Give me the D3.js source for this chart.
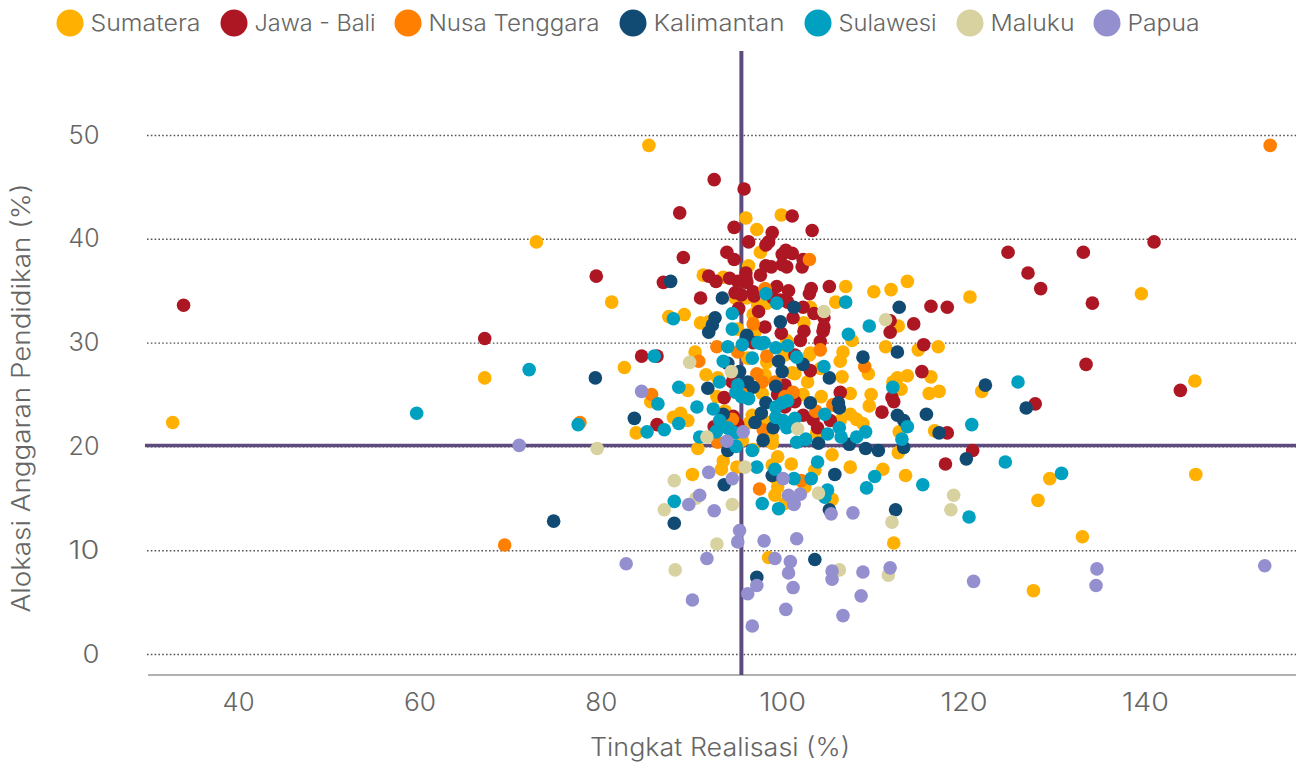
<!DOCTYPE html>
<html><head><meta charset="utf-8">
<script src="https://d3js.org/d3.v7.min.js"></script>
<style>
html,body{margin:0;padding:0;background:#fff}
svg{display:block}
text{font-family:"Inter","Noto Sans",sans-serif;font-weight:300;fill:#666}
.grid line{stroke:#555;stroke-width:1.4;stroke-dasharray:1.6 2.2}
.grid path,.ya path{display:none}
</style></head><body><svg id="c" width="1296" height="762"></svg>
<script>
const seriesNames=["Sumatera","Jawa - Bali","Nusa Tenggara","Kalimantan","Sulawesi","Maluku","Papua"];
const seriesColors=["#FFB000","#AD1724","#FF7F00","#114B73","#00A0C0","#D8D1A0","#9490CF"];
const xTicks=[40,60,80,100,120,140];
const yTicks=[0,10,20,30,40,50];
const refX=95.5, refY=20.08;

const sumatera=[[85.3,49],[72.9,39.7],[81.2,33.9],[32.8,22.3],[67.2,26.6],[82.6,27.6],[139.6,34.7],[145.5,26.3],[145.6,17.3],[128.2,14.8],[129.5,16.9],[133.1,11.3],[127.7,6.1],[120.7,34.4],[122,25.3],
[113.8,35.9],[112,35.1],[110.1,34.9],[112.8,31.6],[111.4,29.6],[115,29.3],[117.2,29.6],[109.5,27],[113.8,26.8],[116.4,26.7],[112.7,26.6],[112.2,26.2],[113.1,25.5],[116.2,25.1],[117.3,25.3],[109.8,25],[107.5,25.1],[109.6,23.9],[107.5,23.1],[108.2,22.6],[108.9,22.2],[116.8,21.5],[112.9,21.4],[112.8,19.4],[111.1,17.8],[107.5,18],[113.6,17.2],[112.3,10.7],[107.7,30.2],[107,35.4],
[96,42],[99.9,42.3],[97.2,40.9],[97.6,38.7],[96.3,37.4],[91.3,36.5],[93.5,36.3],[105.9,33.9],[87.5,32.5],[89.2,32.7],[91,31.9],[91.9,32],[94.8,34.3],[96.1,34.3],[98.3,33.8],[97.3,33.6],[103.1,33.4],[96.8,32.7],[102.4,31.9],[95.1,31.3],[97,31],[100.5,30.2],[90.4,29.1],[106.7,29.1],[103.1,29],
[106.4,28.2],[103,28.8],[98.3,28.1],[100.3,28.8],[91.6,26.9],[92.9,26.6],[101.4,27],[101.1,27.1],[98.1,26.9],[102.8,26.2],[106.6,26.7],[104.2,27.5],[89.6,25.4],[104.3,24.8],[102.3,25],[97.8,25.1],[92.8,24.8],[85.5,24.3],[93.7,23.4],[88,22.8],[88.8,23.2],[89.6,22.5],[106.4,22.5],[105.6,24],[96.4,22.3],[98.1,22.4],[98.9,20.3],[90.7,19.8],[95.6,20.6],[96.8,19.7],[105.5,19.2],[99.5,19],[101,18.3],[93.5,18.6],[93.3,17.8],[95,18],[98.9,18.2],[103.6,17.7],[90.1,17.3],[99.2,17],[99.5,16.1],[99.2,15.3],[100.3,14.5],[102.5,16.1],[105.5,14.9],[103.8,21.3],[93.4,22.3],[98.9,20.9],[98.5,9.3],[83.9,21.3],[96.7,23],[96.2,28.5],[98.7,20.6]];

const jawaBali=[[34,33.6],[67.2,30.4],[79.5,36.4],[84.5,28.7],[86.2,28.7],[86.2,22.1],[124.9,38.7],[127.1,36.7],[128.5,35.2],[133.2,38.7],[141,39.7],[134.2,33.8],[133.5,27.9],[143.9,25.4],[127.9,24.1],[121,19.6],
[92.5,45.7],[95.8,44.8],[88.7,42.5],[101.1,42.2],[94.7,41.1],[103.3,40.8],[98.9,40.6],[96.3,39.7],[98.5,39.7],[98.2,39.4],[93.9,38.7],[89.1,38.2],[100.4,38.9],[101.1,38.6],[100,38.5],[94.7,38],[102.3,38],[102.2,37.3],[98.2,37.4],[98.8,37.3],[100,37.5],[100.5,37.3],[86.9,35.8],[91.9,36.4],[92.7,35.9],[94.2,36.2],[96,36.7],[96,36.2],[95.1,35.9],[96.1,35.8],[97.6,36.5],[91,34.3],[94.8,34.8],[95.5,34.6],[96.8,34.9],[96.9,34.5],[99.4,35.4],[100.7,35],[105.2,35.4],[103.2,35.2],[103,34.7],[99,34.3],[99.8,34.1],[100.6,33.9],[95.2,33.3],[97.4,33],[102.3,33.4],[103.5,32.8],[101.2,32.4],[104.6,32.4],[98.1,31.5],[104.6,31.5],[104.5,31.1],[102.4,31.1],[99.9,30.9],[102,30.2],[104.2,30.1],[111.9,32.1],[111.9,31],[114.5,31.8],[116.4,33.5],[118.2,33.4],[115.6,29.8],[96.8,30],
[101.4,28.8],[103.1,27.3],[115.4,27.2],[94.5,26.2],[100.3,25.9],[100,25.4],[99.5,25],[106.4,25.2],[93.6,24.7],[112.1,24.7],[112.3,24.3],[111,23.3],[101.4,24.3],[100.3,23.8],[102.3,23],[103.4,22.6],[105.3,22.5],[103.9,21.8],[94.6,22.9],[92.5,21.9],[95.1,22.1],[118.2,21.3],[118,18.3]];

const nusaTenggara=[[153.8,49],[69.4,10.5],[77.7,22.3],[85.6,25],[103,38],[96.8,31.8],[92.8,29.6],[98.1,35.2],[104.2,29.3],[95.1,29.1],[98.3,28.7],[90.8,28.2],[109.1,27.7],[97.2,27],[97.8,26.2],[99.2,26.2],[101.2,25.2],[96.1,25.2],[105.6,24],[103.7,23.4],[94.5,22.6],[97.9,21.6],[92.9,20.4],[97.5,15.9],[102.1,16.7],[100.3,24.8]];

const kalimantan=[[74.8,12.8],[79.4,26.6],[83.7,22.7],[87.7,35.9],[126.9,23.7],[122.4,25.9],[120.3,18.8],[112.5,13.9],[88.1,12.6],[103.6,9.1],[97.2,7.4],[105.2,13.9],
[93.4,34.3],[92.6,32.4],[92.3,31.7],[91.9,31],[101.3,33.4],[99.8,32],[96.1,30.7],[112.9,33.4],[112.7,29.1],
[108.9,28.6],[99.6,28.2],[102.3,27.9],[100,27.2],[105.2,26.6],[95.3,27.2],[94,28],[91.8,25.6],[96.2,26.2],[96.8,25.7],[99.3,25.8],[103.1,24.2],[106.2,24.2],[106.3,23.7],[98.2,24.2],[97.7,23.2],[97,22.3],[93.5,23.1],[99,21.8],[115.9,23.1],[112.7,23],[113.4,22.5],[117.3,21.3],[97.9,20.6],[104,20.3],[107.4,20.2],[109.2,19.8],[110.6,19.6],[113.4,19.9],[94,19.6],[93.6,16.3],[98.9,17.2],[105.8,17.3]];

const sulawesi=[[59.7,23.2],[72.1,27.4],[77.5,22.1],[85.9,28.7],[88,32.3],[88.6,25.7],[86.3,24.1],[90.6,23.8],[88.6,22.2],[85.1,21.4],[87,21.6],[88.1,14.7],[94.5,32.8],[94.5,31.3],[94,29.6],[95.6,29.8],[93.5,28.2],[96.7,28.5],[93.1,26.2],[95.1,25.9],[94.9,25.2],[95.5,24.8],[96.3,24.6],[92.4,23.6],[93.1,22.5],[94,21.8],[92.7,21.4],[94.8,21.3],[90.9,20.9],[94.9,20],[96.7,19.6],
[98.2,34.7],[99.4,33.8],[107,33.9],[107.3,30.8],[109.6,31.6],[97.3,30],[98,30],[97.7,29.9],[99.3,29.5],[100.6,29.7],
[101.6,28.6],[104.6,27.7],[112.2,25.7],[100.6,24.4],[100,24.2],[99.3,23.8],[99.3,22.8],[100.1,22.5],[101.4,22.7],[100.5,21.8],[104.7,23.1],[106.3,21.8],[109.2,21.4],[108.2,20.9],[106.5,20.9],[105,21.2],[113.8,21.9],[113.2,20.7],[102.6,20.7],[101.6,20.4],[94.1,21.7],[92.8,21.5],[103.9,18.5],[97.2,18],[99.2,17.8],[101.3,16.9],[103.2,16.9],[110.2,17.1],[109.3,16],[105,15.8],[104.7,15.1],[97.8,14.5],[99.6,14],[115.5,16.3],
[120.9,22.1],[126,26.2],[124.6,18.5],[120.6,13.2],[130.8,17.4]];

const maluku=[[79.6,19.8],[89.8,28.1],[94.4,27.2],[91.7,20.9],[88.1,16.7],[95.9,18],[94.5,14.4],[87,13.9],[90.5,15],[104.6,33],[111.4,32.2],[101.7,21.7],[104,15.5],[118.9,15.3],[118.6,13.9],[112.1,12.7],[92.8,10.6],[88.2,8.1],[106.3,8.1],[111.7,7.6]];

const papua=[[71,20.1],[82.8,8.7],[134.7,8.2],[134.6,6.6],[153.2,8.5],[121.1,7],[84.5,25.3],[93.9,20.5],[95.7,21.4],[91.9,17.5],[94.5,16.9],[90.9,15.3],[89.7,14.4],[92.5,13.8],[95.3,11.9],[95.1,10.8],[98,10.9],[101.6,11.1],[91.7,9.2],[99.2,9.2],[100.9,8.9],[100.7,7.8],[97.2,6.6],[96.2,5.8],[101.2,6.4],[90.1,5.2],[96.7,2.7],[100.4,4.3],[106.7,3.7],[108.7,5.6],[105.5,8],[105.5,7.2],[108.9,7.9],[111.9,8.3],[105.4,13.5],[107.8,13.6],[101.3,14.4],[100.1,16.9],[100.7,15.3],[102,15.4],[101.3,14.5]];

const allSeries=[sumatera,jawaBali,nusaTenggara,kalimantan,sulawesi,maluku,papua];

const svg=d3.select("#c");
const x=d3.scaleLinear().domain([40,140]).range([238,1145]);
const y=d3.scaleLinear().domain([0,50]).range([654,135]);
const plotLeft=147,plotRight=1296,plotTop=51,plotBottom=675;
const stretch=sel=>sel.attr("lengthAdjust","spacingAndGlyphs");

svg.append("g").attr("class","grid").attr("transform",`translate(${plotLeft},0)`)
 .call(d3.axisLeft(y).tickValues(yTicks).tickSize(-(plotRight-plotLeft)).tickFormat(""));

const ya=svg.append("g").attr("class","ya").attr("transform",`translate(${plotLeft},0)`)
 .call(d3.axisLeft(y).tickValues(yTicks).tickSize(0).tickPadding(47.5));
ya.selectAll("text").attr("font-size",25).attr("text-anchor","end")
 .attr("textLength",d=>d===0?17:31).call(stretch);

const xa=svg.append("g").attr("class","xa").attr("transform",`translate(0,${plotBottom})`)
 .call(d3.axisBottom(x).tickValues(xTicks).tickSize(0).tickPadding(18));
xa.select("path").remove();
xa.selectAll("text").attr("font-size",25).attr("textLength",d=>d>=100?47:32).call(stretch);
svg.append("line").attr("x1",148).attr("x2",plotRight).attr("y1",plotBottom).attr("y2",plotBottom).attr("stroke","#999").attr("stroke-width",1.5);

svg.append("line").attr("x1",145).attr("x2",plotRight).attr("y1",y(refY)).attr("y2",y(refY)).attr("stroke","#5E4B7E").attr("stroke-width",3.5);
svg.append("line").attr("x1",x(refX)).attr("x2",x(refX)).attr("y1",plotTop).attr("y2",plotBottom).attr("stroke","#5E4B7E").attr("stroke-width",4);

allSeries.forEach((s,i)=>{
 svg.append("g").selectAll("circle").data(s).join("circle")
  .attr("cx",d=>x(d[0])).attr("cy",d=>y(d[1])).attr("r",6.8).attr("fill",seriesColors[i]);
});

// legend
const legendX=[70,234,408,633,818,970,1107];
const legendW=[110,121,171,131,98,84,72];
seriesNames.forEach((n,i)=>{
 svg.append("circle").attr("cx",legendX[i]).attr("cy",23).attr("r",13.5).attr("fill",seriesColors[i]);
 svg.append("text").attr("x",legendX[i]+20.5).attr("y",23).attr("dy","0.36em").attr("font-size",23)
  .attr("textLength",legendW[i]).call(stretch).text(n);
});

svg.append("text").attr("x",720).attr("y",756).attr("text-anchor","middle").attr("font-size",25).attr("textLength",260).call(stretch).text("Tingkat Realisasi (%)");
svg.append("text").attr("transform","translate(30,398) rotate(-90)").attr("text-anchor","middle").attr("font-size",25).attr("textLength",429).call(stretch).text("Alokasi Anggaran Pendidikan (%)");
</script></body></html>
